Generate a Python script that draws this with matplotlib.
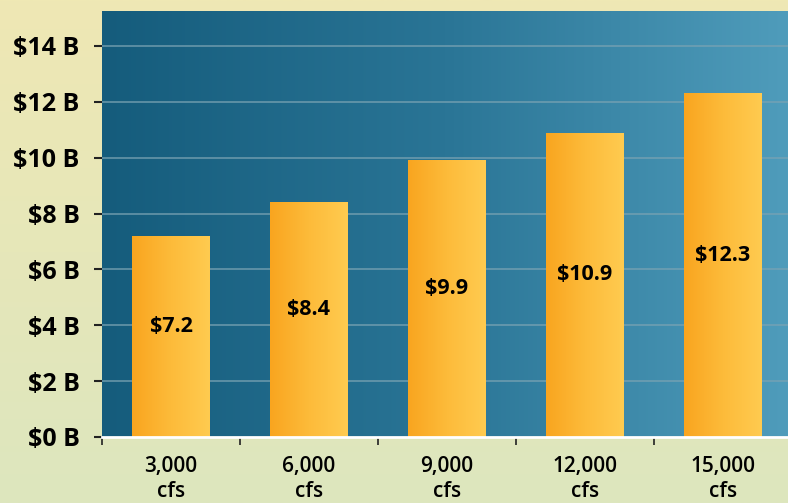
import numpy as np
import matplotlib.pyplot as plt
from matplotlib.colors import LinearSegmentedColormap

# damages by peak flow
flows = ['3,000', '6,000', '9,000', '12,000', '15,000']
damages = [7.2, 8.4, 9.9, 10.9, 12.3]
yticks = [0, 2, 4, 6, 8, 10, 12, 14]

plt.rcParams['font.family'] = ['Open Sans', 'DejaVu Sans']

fig = plt.figure(figsize=(7.88, 5.03), dpi=100)

# pale yellow-green page background
bg = fig.add_axes([0, 0, 1, 1], zorder=-10)
bg_cmap = LinearSegmentedColormap.from_list('page', ['#dde6be', '#efe8b4'])
bg.imshow(np.linspace(0, 1, 256).reshape(-1, 1), cmap=bg_cmap, aspect='auto',
          origin='lower', extent=[0, 1, 0, 1])
bg.axis('off')

ax = fig.add_axes([102 / 788, 1 - 437 / 503, 1 - 102 / 788, (437 - 11) / 503])
x = np.arange(len(flows))
xlim = (-0.5, (788 - 102) / 138 - 0.5)
ylim = (0, 15.25)

# blue panel, dark on the left getting lighter to the right
blue = LinearSegmentedColormap.from_list('panel', ['#155c7c', '#2a7596', '#4f9cbb'])
ax.imshow(np.linspace(0, 1, 256).reshape(1, -1), cmap=blue, aspect='auto',
          extent=[xlim[0], xlim[1], ylim[0], ylim[1]], zorder=0)

for t in yticks[1:]:
    ax.axhline(t, color='#7aa3b3', lw=1.2, alpha=0.8, zorder=1)

orange = LinearSegmentedColormap.from_list('bar', ['#f9a51f', '#fdbb3a', '#ffcb50'])
bars = ax.bar(x, damages, width=0.565, color='none', zorder=2)
for b in bars:
    im = ax.imshow(np.linspace(0, 1, 256).reshape(1, -1), cmap=orange, aspect='auto',
                   extent=[b.get_x(), b.get_x() + b.get_width(), 0, b.get_height()],
                   zorder=2)
    im.set_clip_path(b)

for xi, v in zip(x, damages):
    ax.text(xi, v / 2 + 0.35, f'${v}', ha='center', va='center',
            fontsize=15.5, fontweight='bold', color='black', zorder=3)

ax.set_xlim(*xlim)
ax.set_ylim(*ylim)

ax.set_yticks(yticks)
ax.set_yticklabels([f'${t} B' for t in yticks], fontsize=18, fontweight='bold')
ax.tick_params(axis='y', length=6, width=1.5, pad=10, color='#222222')

ax.set_xticks(x)
ax.set_xticklabels([f'{f}\ncfs' for f in flows], fontsize=15, fontweight='semibold',
                   linespacing=1.25)
ax.tick_params(axis='x', which='major', length=0, pad=14)
ax.set_xticks(np.arange(-0.5, 4.5, 1.0), minor=True)
ax.tick_params(axis='x', which='minor', length=6, width=1.2, color='#222222')

for s in ['left', 'right', 'top']:
    ax.spines[s].set_visible(False)
ax.spines['bottom'].set_color('white')
ax.spines['bottom'].set_linewidth(2)
ax.spines['bottom'].set_zorder(4)

fig.savefig('out.png', dpi=100)
